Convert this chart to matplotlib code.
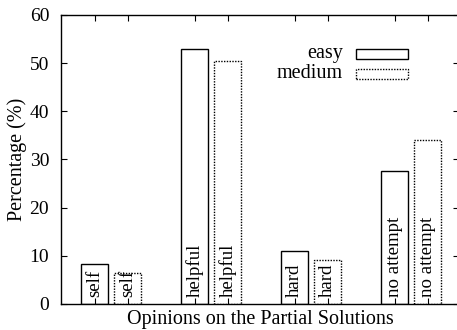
import matplotlib
matplotlib.use("Agg")
import matplotlib.pyplot as plt
from matplotlib.patches import Rectangle
import numpy as np

plt.rcParams['font.family'] = ['Liberation Serif', 'DejaVu Serif']

categories = ["self", "helpful", "hard", "no attempt"]
series_names = ["easy", "medium"]
easy = [8.3, 53.0, 11.0, 27.7]
medium = [6.5, 50.4, 9.1, 34.0]
yticks = [0, 10, 20, 30, 40, 50, 60]

fig = plt.figure(figsize=(4.57, 3.30), dpi=100)
ax = fig.add_axes([0.1335, 0.0788, 0.871, 0.8758])

x = np.arange(len(categories))
width = 0.27
offset = 0.33
styles = [dict(linestyle='-', linewidth=1.0), dict(linestyle=(0, (1, 1)), linewidth=1.0)]

for k, vals in enumerate([easy, medium]):
    pos = x + k * offset
    ax.bar(pos, vals, width=width, facecolor='white', edgecolor='black', **styles[k])
    for p, c in zip(pos, categories):
        ax.text(p, 1.5, c, rotation=90, ha='center', va='bottom', fontsize=13.6)

xt = np.concatenate([x, x + offset])
ax.set_xticks(np.sort(xt))
ax.set_xticklabels([])
ax.set_xlim(-0.335, 3.645)
ax.set_ylim(0, 60)
ax.set_yticks(yticks)
ax.set_yticklabels([str(t) for t in yticks], fontsize=14)
ax.tick_params(direction='in', length=4, width=0.8, top=True, right=True)
ax.tick_params(axis='y', pad=8.5)
for s in ax.spines.values():
    s.set_linewidth(1.0)

ax.set_ylabel("Percentage (%)", fontsize=14.5, labelpad=2)
ax.set_xlabel("Opinions on the Partial Solutions", fontsize=14.5, labelpad=1)

# key in the upper right
key_rows = [(0.865, series_names[0], styles[0]), (0.796, series_names[1], styles[1])]
for yk, name, st in key_rows:
    ax.text(0.7085, yk, name, transform=ax.transAxes, ha='right', va='center', fontsize=14.5)
    ax.add_patch(Rectangle((0.741, yk - 0.016), 0.131, 0.032, transform=ax.transAxes,
                           facecolor='white', edgecolor='black', **st))

fig.savefig("out.png", dpi=100)
